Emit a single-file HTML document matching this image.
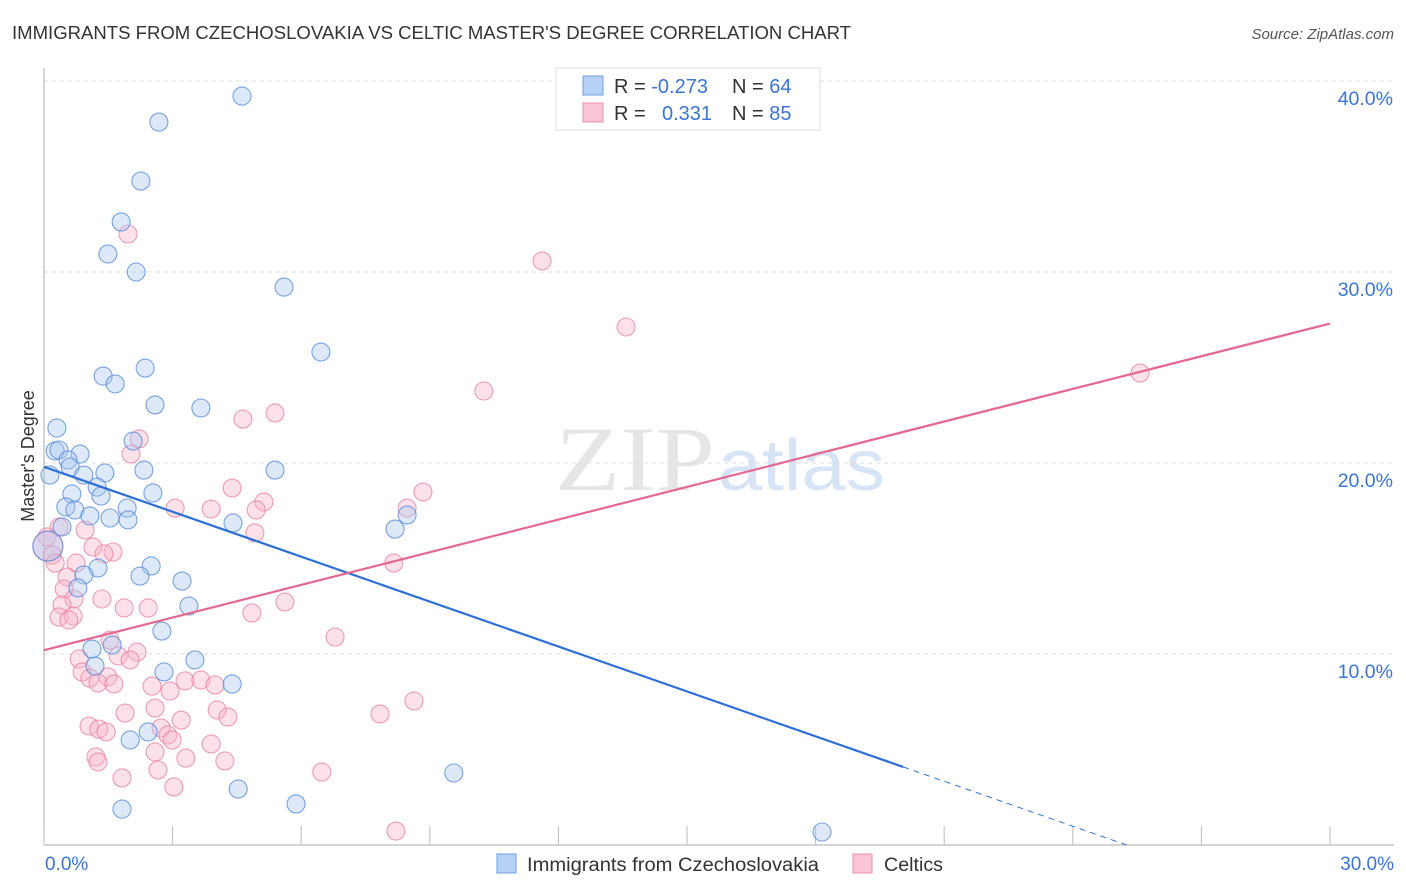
<!DOCTYPE html>
<html><head><meta charset="utf-8"><style>
body{margin:0;background:#fff;font-family:"Liberation Sans",sans-serif;}
#wrap{position:relative;width:1406px;height:892px;overflow:hidden}
</style></head><body>
<div id="wrap">
<svg id="svg" width="1406" height="892" xmlns="http://www.w3.org/2000/svg">
<text x="12" y="39" font-size="18" fill="#333" textLength="839" lengthAdjust="spacingAndGlyphs">IMMIGRANTS FROM CZECHOSLOVAKIA VS CELTIC MASTER'S DEGREE CORRELATION CHART</text>
<text x="1394" y="39" font-size="15" fill="#555" font-style="italic" text-anchor="end">Source: ZipAtlas.com</text>
<text x="555" y="490" font-size="92" fill="#e6e6e6" textLength="160" lengthAdjust="spacingAndGlyphs" font-family="Liberation Serif">ZIP</text>
<text x="718" y="490" font-size="72" fill="#d6e4f5" textLength="167" lengthAdjust="spacingAndGlyphs">atlas</text>
<text transform="translate(34,456) rotate(-90)" font-size="18" fill="#333" text-anchor="middle">Master's Degree</text>
<g id="grid"></g><g id="axes"></g><g id="pts"></g><g id="lines"></g>
<g>
<rect x="556" y="68" width="264" height="62" fill="#fff" stroke="#ddd"/>
<rect x="583" y="76" width="20" height="19" fill="#b7d1f5" stroke="#6f9ee0"/>
<rect x="583" y="103" width="20" height="19" fill="#fac5d5" stroke="#ec90ad"/>
<text x="614" y="93" font-size="20" fill="#333">R = <tspan fill="#3a75d6">-0.273</tspan></text>
<text x="732" y="93" font-size="20" fill="#333">N = <tspan fill="#3a75d6">64</tspan></text>
<text x="614" y="120" font-size="20" fill="#333">R = <tspan fill="#3a75d6" x="662">0.331</tspan></text>
<text x="732" y="120" font-size="20" fill="#333">N = <tspan fill="#3a75d6">85</tspan></text>
</g>
<g>
<rect x="497" y="854" width="19" height="19" fill="#b7d1f5" stroke="#6f9ee0"/>
<text x="527" y="871" font-size="19" fill="#333" textLength="292" lengthAdjust="spacingAndGlyphs">Immigrants from Czechoslovakia</text>
<rect x="853" y="854" width="19" height="19" fill="#fac5d5" stroke="#ec90ad"/>
<text x="884" y="871" font-size="19" fill="#333" textLength="59" lengthAdjust="spacingAndGlyphs">Celtics</text>
</g>
</svg>
</div>
<script>
const blueX=[4.62,2.68,2.26,1.80,1.49,2.15,5.6,6.46,1.38,1.66,2.36,2.59,3.66,0.30,2.08,0.26,0.35,0.84,0.56,0.61,1.42,0.93,2.33,5.39,0.14,1.24,0.65,1.33,2.54,0.51,0.72,1.07,1.94,1.54,1.96,4.41,8.47,8.19,0.42,0.09,2.50,1.26,0.93,2.24,3.22,0.79,3.38,2.75,1.12,1.59,1.19,3.52,2.80,4.39,2.01,2.43,4.53,1.82,5.88,9.56,18.15];
const blueY=[39.21,37.85,34.76,32.62,30.94,30.00,29.21,25.81,24.55,24.14,24.97,23.04,22.88,21.83,21.15,20.63,20.68,20.47,20.16,19.79,19.48,19.37,19.63,19.63,19.37,18.74,18.38,18.27,18.43,17.70,17.54,17.23,17.64,17.12,17.02,16.86,17.28,16.54,16.65,15.65,14.61,14.50,14.14,14.08,13.82,13.46,12.51,11.20,10.26,10.47,9.37,9.69,9.06,8.43,5.50,5.92,2.93,1.88,2.15,3.77,0.68];
const pinkX=[1.96,11.62,13.58,10.26,25.57,5.39,4.64,2.22,2.03,4.39,5.13,3.06,3.90,4.95,8.84,8.47,4.92,8.16,0.35,0.96,0.07,0.09,0.19,1.14,1.61,1.40,0.75,0.26,0.54,0.47,1.35,0.70,0.42,2.43,1.87,4.85,5.62,6.79,0.35,0.68,0.58,1.54,1.73,2.17,2.01,0.82,0.89,1.07,1.49,1.26,1.63,2.52,2.94,3.29,3.66,3.99,2.59,1.89,4.04,4.29,3.20,7.84,8.63,1.05,1.28,1.45,2.73,2.89,2.99,2.59,3.90,1.21,1.26,4.22,3.31,2.66,1.82,3.03,6.48,8.21];
const pinkY=[31.99,30.58,27.12,23.77,24.71,22.62,22.30,21.26,20.47,18.69,17.96,17.64,17.59,17.54,18.48,17.64,16.34,14.76,16.65,16.49,16.13,15.65,15.18,15.60,15.34,15.24,14.76,14.76,14.03,13.40,12.88,12.88,12.57,12.41,12.41,12.15,12.72,10.89,11.94,11.99,11.78,10.73,9.90,10.10,9.69,9.74,9.06,8.74,8.80,8.48,8.43,8.32,8.06,8.59,8.64,8.38,7.17,6.91,7.07,6.70,6.54,6.86,7.54,6.23,6.07,5.92,6.13,5.76,5.50,4.87,5.29,4.61,4.35,4.40,4.55,3.93,3.51,3.04,3.82,0.73];
const yTicks=[10,20,30,40];
const yTickLabels=["10.0%","20.0%","30.0%","40.0%"];
const xTicks=[0,3,6,9,12,15,18,21,24,27,30];
const blueTrend=[19.8,-0.784];
const pinkTrend=[10.2,0.57];
const blueSolidEnd=20.04;
const NS="http://www.w3.org/2000/svg";
const X0=44,X1=1330,Y0=845,PPY=19.1;
const sx=v=>X0+(v/30)*(X1-X0);
const sy=v=>Y0-v*PPY;
function mk(tag,attrs,parent){const e=document.createElementNS(NS,tag);for(const k in attrs)e.setAttribute(k,attrs[k]);parent.appendChild(e);return e;}
const grid=document.getElementById('grid'),axes=document.getElementById('axes'),pts=document.getElementById('pts'),lines=document.getElementById('lines');
yTicks.forEach((t,i)=>{
 const l=mk('line',{x1:X0,x2:1394,y1:sy(t),y2:sy(t),stroke:'#ddd','stroke-dasharray':'4,4'},grid);
 
 
 const tx=mk('text',{x:1393,y:sy(t)+24,'font-size':19.5,fill:'#3a75d6','text-anchor':'end'},grid);
 tx.textContent=yTickLabels[i];
 
 
});
const ax=mk('line',{x1:X0,x2:X0,y1:68,y2:Y0,stroke:'#aaa'},axes);


const bx=mk('line',{x1:X0,x2:1394,y1:Y0,y2:Y0,stroke:'#aaa'},axes);


xTicks.forEach(t=>{
 const l=mk('line',{x1:sx(t),x2:sx(t),y1:Y0-19,y2:Y0,stroke:'#bbb'},axes);
 
 
});
const xl0=mk('text',{x:45,y:870,'font-size':19,fill:'#3a75d6'},axes);xl0.textContent='0.0%';


const xl1=mk('text',{x:1394,y:870,'font-size':19,fill:'#3a75d6','text-anchor':'end'},axes);xl1.textContent='30.0%';


function drawPts(xs,ys,fill,stroke,name){
 xs.forEach((x,i)=>{
  const big=(x<0.1&&Math.abs(ys[i]-15.65)<0.05);
  const c=mk('circle',{cx:sx(x),cy:sy(ys[i]),r:big?15:9,fill:fill,'fill-opacity':0.4,stroke:stroke,'stroke-width':1.1,'stroke-opacity':0.75},pts);
  
  
 });
}
drawPts(pinkX,pinkY,'#f7b3c8','#e77fa0','celtics-point');
drawPts(blueX,blueY,'#a9c8f0','#4f86d8','czechoslovakia-point');
const bl=mk('line',{x1:sx(0),y1:sy(blueTrend[0]),x2:sx(blueSolidEnd),y2:sy(blueTrend[0]+blueTrend[1]*blueSolidEnd),stroke:'#2d6fd6','stroke-width':2.2},lines);


const xz=-blueTrend[0]/blueTrend[1];
const bd=mk('line',{x1:sx(blueSolidEnd),y1:sy(blueTrend[0]+blueTrend[1]*blueSolidEnd),x2:sx(xz),y2:sy(0),stroke:'#2d6fd6','stroke-width':1,'stroke-dasharray':'6,5'},lines);


const pl=mk('line',{x1:sx(0),y1:sy(pinkTrend[0]),x2:sx(30),y2:sy(pinkTrend[0]+pinkTrend[1]*30),stroke:'#e4688f','stroke-width':2.2},lines);


</script>
</body></html>
